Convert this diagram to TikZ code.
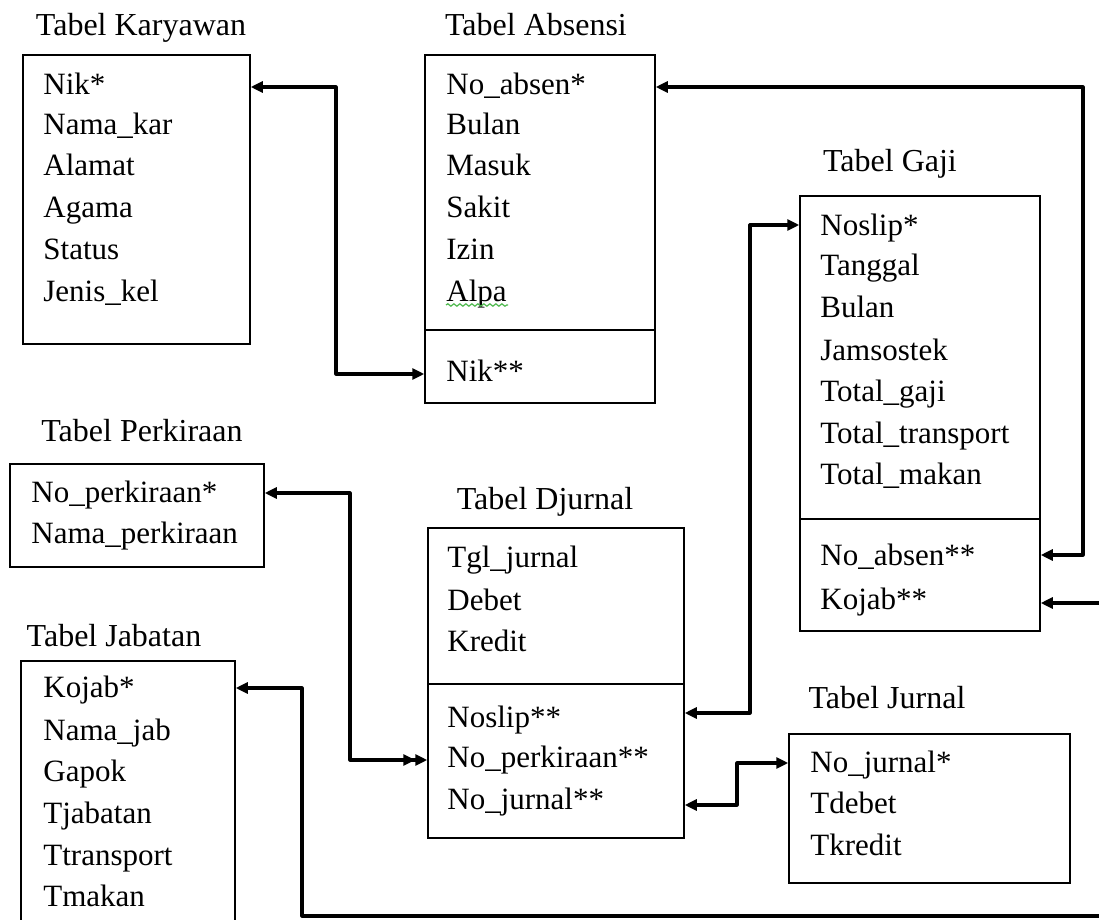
\documentclass[tikz,border=0pt]{standalone}
\usepackage{fontspec}
\setmainfont{Liberation Serif}
\usetikzlibrary{arrows.meta,fit,decorations.pathmorphing}
\begin{document}
\begin{tikzpicture}[x=0.5pt,y=-0.5pt,
  tbox/.style={draw=black, line width=0.75pt, inner sep=0pt},
  row/.style={anchor=base west, inner sep=0pt, font=\fontsize{15.5}{18}\selectfont},
  ttl/.style={anchor=base, inner sep=0pt, font=\fontsize{16}{18}\selectfont},
  link/.style={line width=1.6pt, line join=round},
  both/.style={link, {Triangle[length=6pt,width=5.5pt]}-{Triangle[length=6pt,width=5.5pt]}},
  dbl/.style={link, {Triangle[length=6pt,width=5.5pt]}-{Triangle[length=6pt,width=5.5pt]Triangle[length=6pt,width=5.5pt]}}]
\useasboundingbox (0,0) rectangle (1099,920);

% ---------- Tabel Karyawan
\node[ttl] (tka) at (141,36) {Tabel Karyawan};
\node[tbox, fit={(23,55) (250,344)}] (ka) {};
\node[row] (ka1) at (43,95) {Nik*};
\node[row] (ka2) at (43,135) {Nama\_kar};
\node[row] (ka3) at (43,176) {Alamat};
\node[row] (ka4) at (43,218) {Agama};
\node[row] (ka5) at (43,259) {Status};
\node[row] (ka6) at (43,301) {Jenis\_kel};

% ---------- Tabel Absensi
\node[ttl] (tab) at (536,36) {Tabel Absensi};
\node[tbox, fit={(425,55) (655,403)}] (ab) {};
\draw[line width=0.75pt] (ab.west |- 0,330) -- (ab.east |- 0,330);
\node[row] (ab1) at (446,95) {No\_absen*};
\node[row] (ab2) at (446,135) {Bulan};
\node[row] (ab3) at (446,176) {Masuk};
\node[row] (ab4) at (446,218) {Sakit};
\node[row] (ab5) at (446,259) {Izin};
\node[row] (ab6) at (446,301) {Alpa};
\draw[green!60!black!70, line width=0.6pt, decorate, decoration={snake, amplitude=0.6pt, segment length=3pt}] (ab6.base west) ++(0,4) -- ++(62,0);
\node[row] (ab7) at (446,381) {Nik**};

% ---------- Tabel Gaji
\node[ttl] (tga) at (890,172) {Tabel Gaji};
\node[tbox, fit={(800,196) (1040,631)}] (ga) {};
\draw[line width=0.75pt] (ga.west |- 0,519) -- (ga.east |- 0,519);
\node[row] (ga1) at (820,235) {Noslip*};
\node[row] (ga2) at (820,276) {Tanggal};
\node[row] (ga3) at (820,317) {Bulan};
\node[row] (ga4) at (820,360) {Jamsostek};
\node[row] (ga5) at (820,401) {Total\_gaji};
\node[row] (ga6) at (820,443) {Total\_transport};
\node[row] (ga7) at (820,484) {Total\_makan};
\node[row] (ga8) at (820,565) {No\_absen**};
\node[row] (ga9) at (820,609) {Kojab**};

% ---------- Tabel Perkiraan
\node[ttl] (tpe) at (142,441) {Tabel Perkiraan};
\node[tbox, fit={(10,464) (264,567)}] (pe) {};
\node[row] (pe1) at (31,502) {No\_perkiraan*};
\node[row] (pe2) at (31,543) {Nama\_perkiraan};

% ---------- Tabel Djurnal
\node[ttl] (tdj) at (545,509) {Tabel Djurnal};
\node[tbox, fit={(428,528) (684,838)}] (dj) {};
\draw[line width=0.75pt] (dj.west |- 0,684) -- (dj.east |- 0,684);
\node[row] (dj1) at (447,567) {Tgl\_jurnal};
\node[row] (dj2) at (447,610) {Debet};
\node[row] (dj3) at (447,651) {Kredit};
\node[row] (dj4) at (447,727) {Noslip**};
\node[row] (dj5) at (447,767) {No\_perkiraan**};
\node[row] (dj6) at (447,809) {No\_jurnal**};

% ---------- Tabel Jabatan
\node[ttl] (tja) at (114,646) {Tabel Jabatan};
\node[tbox, fit={(21,661) (235,940)}] (ja) {};
\node[row] (ja1) at (43,697) {Kojab*};
\node[row] (ja2) at (43,740) {Nama\_jab};
\node[row] (ja3) at (43,781) {Gapok};
\node[row] (ja4) at (43,823) {Tjabatan};
\node[row] (ja5) at (43,865) {Ttransport};
\node[row] (ja6) at (43,906) {Tmakan};

% ---------- Tabel Jurnal
\node[ttl] (tju) at (887,708) {Tabel Jurnal};
\node[tbox, fit={(789,734) (1070,883)}] (ju) {};
\node[row] (ju1) at (810,772) {No\_jurnal*};
\node[row] (ju2) at (810,813) {Tdebet};
\node[row] (ju3) at (810,855) {Tkredit};

% ---------- connectors
\draw[both] (ka.east |- 0,87) -| (336,374) -- (ab.west |- 0,374);
\draw[both] (ab.east |- 0,87) -| (1083,555) -- (ga.east |- 0,555);
\draw[both] (ja.east |- 0,688) -| (302,916) -| (1115,603) -- (ga.east |- 0,603);
\draw[both] (dj.east |- 0,713) -| (750,225) -- (ga.west |- 0,225);
\draw[dbl] (pe.east |- 0,493) -| (350,760) -- (dj.west |- 0,760);
\draw[both] (dj.east |- 0,805) -| (737,763) -- (ju.west |- 0,763);
\end{tikzpicture}
\end{document}
